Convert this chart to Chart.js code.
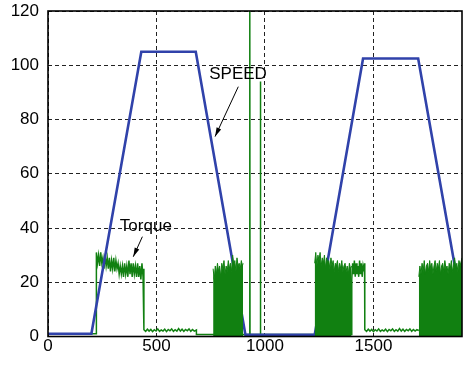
<!DOCTYPE html>
<html>
<head>
<meta charset="utf-8">
<script src="https://cdn.jsdelivr.net/npm/chart.js@4.4.1/dist/chart.umd.min.js"></script>
<style>
  html, body { margin: 0; padding: 0; background: #fff; }
  #wrap { width: 463px; height: 365px; }
</style>
</head>
<body>
<div id="wrap"><canvas id="motorChart" width="463" height="365"></canvas></div>
<script>
const xTicks = [0, 500, 1000, 1500];
const yTicks = [0, 20, 40, 60, 80, 100, 120];

// speed profile corners
const speedX = [0, 200, 430, 681, 910, 1229, 1452, 1706, 1908];
const speedY = [1, 1, 105, 105, 0.6, 0.6, 102.5, 102.5, 11];

// torque trace, piece by piece
const torqueIdle = [[0, 1], [223, 1]];
const torquePlateau = [
  [223, 31], [228, 27], [233, 30], [238, 26], [243, 31], [248, 27], [253, 29], [258, 25],
  [263, 30], [268, 26], [273, 29], [278, 25], [283, 29], [288, 24], [293, 28], [298, 25],
  [303, 29], [308, 24], [313, 28], [318, 25], [323, 27], [328, 23], [333, 26], [338, 23],
  [343, 26], [348, 22], [353, 27], [358, 23], [363, 26], [368, 22], [373, 28], [378, 23],
  [383, 27], [388, 22], [393, 27], [398, 23], [403, 26], [408, 22], [413, 27], [418, 22],
  [423, 26], [428, 21], [433, 27], [438, 22], [442, 25]
];
const torqueLow1 = [
  [442, 2.5], [450, 1.9], [458, 2.7], [466, 2.0], [474, 2.6], [482, 1.8], [490, 2.5], [498, 2.0],
  [506, 2.8], [514, 1.9], [522, 2.4], [530, 2.0], [538, 2.7], [546, 1.8], [554, 2.6], [562, 2.1],
  [570, 2.8], [578, 1.9], [586, 2.5], [594, 2.0], [602, 2.9], [610, 2.0], [618, 2.7], [626, 1.9],
  [634, 2.6], [642, 2.1], [650, 2.8], [658, 1.9], [666, 2.6], [674, 2.0], [684, 2.4]
];
const torqueStop = [
  [684, 0.7], [761, 0.7], [899, 0.7], [929, 0.7], [930, 126], [931, 0.7],
  [978, 0.7], [979, 94], [980, 0.7], [1229, 0.7], [1399, 0.7]
];
const torqueHold = [
  [1400, 21], [1404, 27], [1408, 23], [1412, 28], [1416, 22], [1420, 27], [1424, 23], [1428, 26],
  [1432, 22], [1436, 28], [1440, 23], [1444, 27], [1448, 22], [1452, 26], [1456, 24], [1459, 27]
];
const torqueLow2 = [
  [1460, 2.5], [1468, 1.9], [1476, 2.7], [1484, 2.0], [1492, 2.6], [1500, 1.8], [1508, 2.5], [1516, 2.0],
  [1524, 2.8], [1532, 1.9], [1540, 2.4], [1548, 2.0], [1556, 2.7], [1564, 1.8], [1572, 2.6], [1580, 2.1],
  [1588, 2.8], [1596, 1.9], [1604, 2.5], [1612, 2.0], [1620, 2.9], [1628, 2.0], [1636, 2.7], [1644, 1.9],
  [1652, 2.6], [1660, 2.1], [1668, 2.8], [1676, 1.9], [1684, 2.6], [1692, 2.0], [1700, 2.5], [1709, 2.2]
];

// fast switching regions: upper envelope, filled down to zero
const band1 = [
  [761, 25], [766, 21], [771, 26], [776, 23], [781, 27], [786, 24], [791, 26], [796, 22],
  [801, 27], [806, 25], [811, 28], [816, 23], [821, 26], [826, 24], [831, 28], [836, 25],
  [841, 27], [846, 24], [851, 30], [856, 26], [861, 28], [866, 24], [871, 29], [876, 26],
  [881, 27], [886, 25], [891, 28], [896, 26], [899, 27]
];
const band2 = [
  [1229, 27], [1234, 31], [1239, 26], [1244, 30], [1249, 28], [1254, 31], [1259, 26], [1264, 29],
  [1269, 27], [1274, 30], [1279, 25], [1284, 29], [1289, 27], [1294, 28], [1299, 25], [1304, 29],
  [1309, 26], [1314, 28], [1319, 24], [1324, 27], [1329, 26], [1334, 28], [1339, 24], [1344, 27],
  [1349, 25], [1354, 28], [1359, 24], [1364, 26], [1369, 27], [1374, 24], [1379, 26], [1384, 23],
  [1389, 27], [1394, 25], [1399, 26]
];
const band3 = [
  [1709, 22], [1714, 26], [1719, 23], [1724, 27], [1729, 24], [1734, 28], [1739, 23], [1744, 26],
  [1749, 27], [1754, 24], [1759, 28], [1764, 25], [1769, 27], [1774, 23], [1779, 26], [1784, 28],
  [1789, 24], [1794, 27], [1799, 25], [1804, 28], [1809, 23], [1814, 26], [1819, 27], [1824, 24],
  [1829, 28], [1834, 25], [1839, 26], [1844, 23], [1849, 27], [1854, 25], [1859, 28], [1864, 24],
  [1869, 26], [1874, 29], [1879, 25], [1884, 27], [1889, 24], [1894, 28], [1899, 26], [1908, 29]
];

const GREEN = '#118011';
const BLUE = '#3042aa';
const FONT = "'Liberation Sans', Arial, sans-serif";

const toPoints = pairs => pairs.map(p => ({ x: p[0], y: p[1] }));

const torqueTrace = [].concat(torqueIdle, torquePlateau, torqueLow1, torqueStop, torqueHold, torqueLow2);

// labels with arrows, in data units
const notes = [
  { text: 'SPEED', x: 876, y: 96.8, from: [877, 92.1], to: [770, 73.7] },
  { text: 'Torque', x: 451, y: 40.6, from: [435, 36.8], to: [393, 29.4] }
];

const notesPlugin = {
  id: 'notes',
  afterDatasetsDraw(chart) {
    const { ctx, scales: { x, y } } = chart;
    ctx.save();
    ctx.fillStyle = '#000';
    ctx.strokeStyle = '#000';
    ctx.font = '17px ' + FONT;
    ctx.textAlign = 'center';
    ctx.textBaseline = 'middle';
    notes.forEach(n => {
      ctx.fillText(n.text, x.getPixelForValue(n.x), y.getPixelForValue(n.y));
      const x1 = x.getPixelForValue(n.from[0]), y1 = y.getPixelForValue(n.from[1]);
      const x2 = x.getPixelForValue(n.to[0]), y2 = y.getPixelForValue(n.to[1]);
      ctx.lineWidth = 1;
      ctx.beginPath();
      ctx.moveTo(x1, y1);
      ctx.lineTo(x2, y2);
      ctx.stroke();
      const a = Math.atan2(y2 - y1, x2 - x1);
      ctx.beginPath();
      ctx.moveTo(x2, y2);
      ctx.lineTo(x2 - 9 * Math.cos(a) + 2.5 * Math.sin(a), y2 - 9 * Math.sin(a) - 2.5 * Math.cos(a));
      ctx.lineTo(x2 - 9 * Math.cos(a) - 2.5 * Math.sin(a), y2 - 9 * Math.sin(a) + 2.5 * Math.cos(a));
      ctx.closePath();
      ctx.fill();
    });
    ctx.restore();
  },
  afterDraw(chart) {
    const { ctx, chartArea: a } = chart;
    ctx.save();
    ctx.strokeStyle = '#000';
    ctx.lineWidth = 1.6;
    ctx.strokeRect(a.left, a.top, a.right - a.left, a.bottom - a.top);
    ctx.restore();
  }
};

const bandSet = pairs => ({
  data: toPoints(pairs),
  borderColor: GREEN,
  backgroundColor: GREEN,
  borderWidth: 1,
  fill: 'origin',
  pointRadius: 0,
  order: 0
});

// fixed axis boxes, no extra room for label overhang
const fixBox = size => s => {
  if (s.isHorizontal()) s.height = size; else s.width = size;
  s.paddingTop = 0; s.paddingBottom = 0; s.paddingLeft = 0; s.paddingRight = 0;
};

new Chart(document.getElementById('motorChart'), {
  type: 'line',
  data: {
    datasets: [
      bandSet(band1),
      bandSet(band2),
      bandSet(band3),
      {
        label: 'SPEED',
        data: speedX.map((v, i) => ({ x: v, y: speedY[i] })),
        borderColor: BLUE,
        borderWidth: 2.6,
        pointRadius: 0,
        fill: false,
        order: 1
      },
      {
        label: 'Torque',
        data: toPoints(torqueTrace),
        borderColor: GREEN,
        borderWidth: 1.5,
        pointRadius: 0,
        fill: false,
        order: 2
      }
    ]
  },
  options: {
    responsive: false,
    animation: false,
    layout: { padding: { top: 11, right: 1, left: 0, bottom: 0 } },
    plugins: { legend: { display: false }, tooltip: { enabled: false } },
    elements: { line: { tension: 0 } },
    scales: {
      x: {
        type: 'linear',
        min: 0,
        max: 1908,
        afterBuildTicks: s => { s.ticks = xTicks.map(v => ({ value: v })); },
        afterFit: fixBox(28.5),
        grid: { color: '#222', lineWidth: 1, tickLength: 0, drawTicks: false },
        border: { display: false, dash: [4, 3] },
        ticks: {
          color: '#000', padding: 0, maxRotation: 0,
          font: { size: 17, family: FONT },
          callback: v => String(v)
        }
      },
      y: {
        type: 'linear',
        min: 0,
        max: 120,
        afterBuildTicks: s => { s.ticks = yTicks.map(v => ({ value: v })); },
        afterFit: fixBox(48),
        grid: { color: '#222', lineWidth: 1, tickLength: 0, drawTicks: false },
        border: { display: false, dash: [4, 3] },
        ticks: { color: '#000', padding: 9, font: { size: 17, family: FONT } }
      }
    }
  },
  plugins: [notesPlugin]
});
</script>
</body>
</html>
